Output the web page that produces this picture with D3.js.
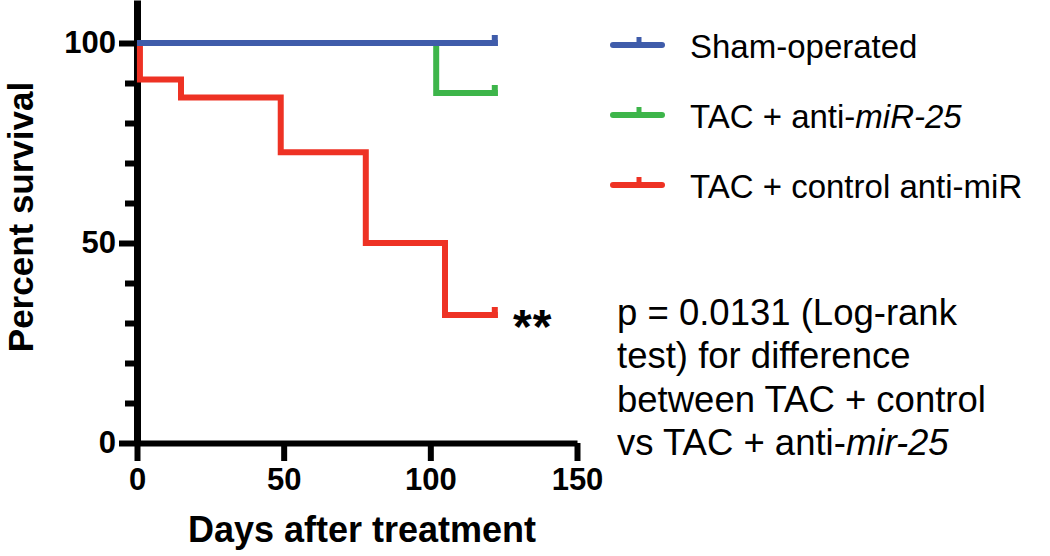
<!DOCTYPE html>
<html>
<head>
<meta charset="utf-8">
<script src="https://cdn.jsdelivr.net/npm/d3@7"></script>
<style>
  html, body { margin: 0; padding: 0; background: #fff; }
  svg { display: block; font-family: "Liberation Sans", Arial, Helvetica, sans-serif; }
</style>
</head>
<body>
<svg id="chart" width="1050" height="556"></svg>
<script>
// ---- Data ----
const seriesNames = ["Sham-operated", "TAC + anti-miR-25", "TAC + control anti-miR"];
const seriesColors = ["#3F5CAA", "#3DB54A", "#EE3224"];
// Kaplan-Meier step curves: event times (days) and survival (%) after each event
const shamTimes = [0];
const shamSurvival = [100];
const antiTimes = [0, 102];
const antiSurvival = [100, 87.5];
const controlTimes = [0, 1, 15, 49, 78, 105];
const controlSurvival = [100, 90.9, 86.4, 72.7, 50, 32];
const followUpEnd = [123, 123, 123];
const xTicks = [0, 50, 100, 150];
const yMajorTicks = [0, 50, 100];
const yMinorTicks = [10, 20, 30, 40, 60, 70, 80, 90];
const annotationLines = [
  [{t: "p = 0.0131 (Log-rank"}],
  [{t: "test) for difference"}],
  [{t: "between TAC + control"}],
  [{t: "vs TAC + anti-"}, {t: "mir-25", i: true}]
];
const legendLabels = [
  [{t: "Sham-operated"}],
  [{t: "TAC + anti-"}, {t: "miR-25", i: true}],
  [{t: "TAC + control anti-miR"}]
];

// ---- Layout ----
const svg = d3.select("#chart");
const x = d3.scaleLinear().domain([0, 150]).range([137, 577]);
const y = d3.scaleLinear().domain([0, 110.75]).range([443, 0]);

// Axes
const xAxis = d3.axisBottom(x).tickValues(xTicks).tickSize(18).tickSizeOuter(0).tickPadding(7).tickFormat(d3.format("d"));
const gx = svg.append("g").attr("transform", `translate(0,${y(0)})`).call(xAxis);
gx.select(".domain").attr("stroke", "#000").attr("stroke-width", 6);
gx.selectAll(".tick line").attr("stroke", "#000").attr("stroke-width", 6);
gx.selectAll(".tick text").attr("fill", "#000").attr("font-size", 31).attr("font-weight", "bold")
  .attr("font-family", "'Liberation Sans', Arial, sans-serif");

const yAxis = d3.axisLeft(y).tickValues(yMajorTicks).tickSize(18).tickSizeOuter(0).tickPadding(3).tickFormat(d3.format("d"));
const gy = svg.append("g").attr("transform", `translate(${x(0)},0)`).call(yAxis);
gy.select(".domain").attr("stroke", "#000").attr("stroke-width", 7);
gy.selectAll(".tick line").attr("stroke", "#000").attr("stroke-width", 6);
gy.selectAll(".tick text").attr("fill", "#000").attr("font-size", 31).attr("font-weight", "bold")
  .attr("font-family", "'Liberation Sans', Arial, sans-serif");

const yMinor = d3.axisLeft(y).tickValues(yMinorTicks).tickSize(12).tickSizeOuter(0).tickFormat("");
const gym = svg.append("g").attr("transform", `translate(${x(0)},0)`).call(yMinor);
gym.select(".domain").remove();
gym.selectAll(".tick line").attr("stroke", "#000").attr("stroke-width", 6);

// Axis titles
svg.append("text")
  .attr("transform", "translate(32.5,217) rotate(-90)")
  .attr("text-anchor", "middle")
  .attr("font-size", 35).attr("font-weight", "bold").attr("fill", "#000")
  .text("Percent survival");
svg.append("text")
  .attr("x", 362).attr("y", 542)
  .attr("text-anchor", "middle")
  .attr("font-size", 36).attr("font-weight", "bold").attr("fill", "#000")
  .text("Days after treatment");

// Curves
const curves = [
  {times: shamTimes, surv: shamSurvival, end: followUpEnd[0], color: seriesColors[0]},
  {times: antiTimes, surv: antiSurvival, end: followUpEnd[1], color: seriesColors[1]},
  {times: controlTimes, surv: controlSurvival, end: followUpEnd[2], color: seriesColors[2]}
];
const line = d3.line().x(d => x(d[0])).y(d => y(d[1])).curve(d3.curveStepAfter);
const drawOrder = [2, 1, 0];
drawOrder.forEach(i => {
  const c = curves[i];
  const pts = c.times.map((t, k) => [t, c.surv[k]]);
  pts.push([c.end, c.surv[c.surv.length - 1]]);
  svg.append("path")
    .attr("d", line(pts))
    .attr("fill", "none")
    .attr("stroke", c.color)
    .attr("stroke-width", 6)
    .attr("stroke-linejoin", "miter")
    .attr("stroke-linecap", "butt");
  const last = c.surv[c.surv.length - 1];
  svg.append("line")
    .attr("x1", x(c.end) - 3).attr("x2", x(c.end) - 3)
    .attr("y1", y(last) + 3).attr("y2", y(last) - 8)
    .attr("stroke", c.color).attr("stroke-width", 6);
});

// Significance marker
svg.append("text")
  .attr("x", 513).attr("y", 343)
  .attr("font-size", 48).attr("font-weight", "bold").attr("fill", "#000")
  .attr("letter-spacing", 1)
  .text("**");

// Legend
const legendY = [45, 115, 185];
seriesNames.forEach((name, i) => {
  const g = svg.append("g").attr("transform", `translate(0,${legendY[i]})`);
  g.append("line").attr("x1", 613).attr("x2", 662).attr("y1", 0).attr("y2", 0)
    .attr("stroke", seriesColors[i]).attr("stroke-width", 6).attr("stroke-linecap", "round");
  g.append("line").attr("x1", 639).attr("x2", 639).attr("y1", 0).attr("y2", -8)
    .attr("stroke", seriesColors[i]).attr("stroke-width", 5);
  const txt = g.append("text").attr("x", 690).attr("y", 13)
    .attr("font-size", 33).attr("fill", "#000");
  legendLabels[i].forEach(seg => {
    txt.append("tspan").attr("font-style", seg.i ? "italic" : "normal").text(seg.t);
  });
});

// Annotation
annotationLines.forEach((segs, i) => {
  const txt = svg.append("text").attr("x", 617).attr("y", 325 + i * 43.3)
    .attr("font-size", 36.5).attr("fill", "#000");
  segs.forEach(seg => {
    txt.append("tspan").attr("font-style", seg.i ? "italic" : "normal").text(seg.t);
  });
});
</script>
</body>
</html>
